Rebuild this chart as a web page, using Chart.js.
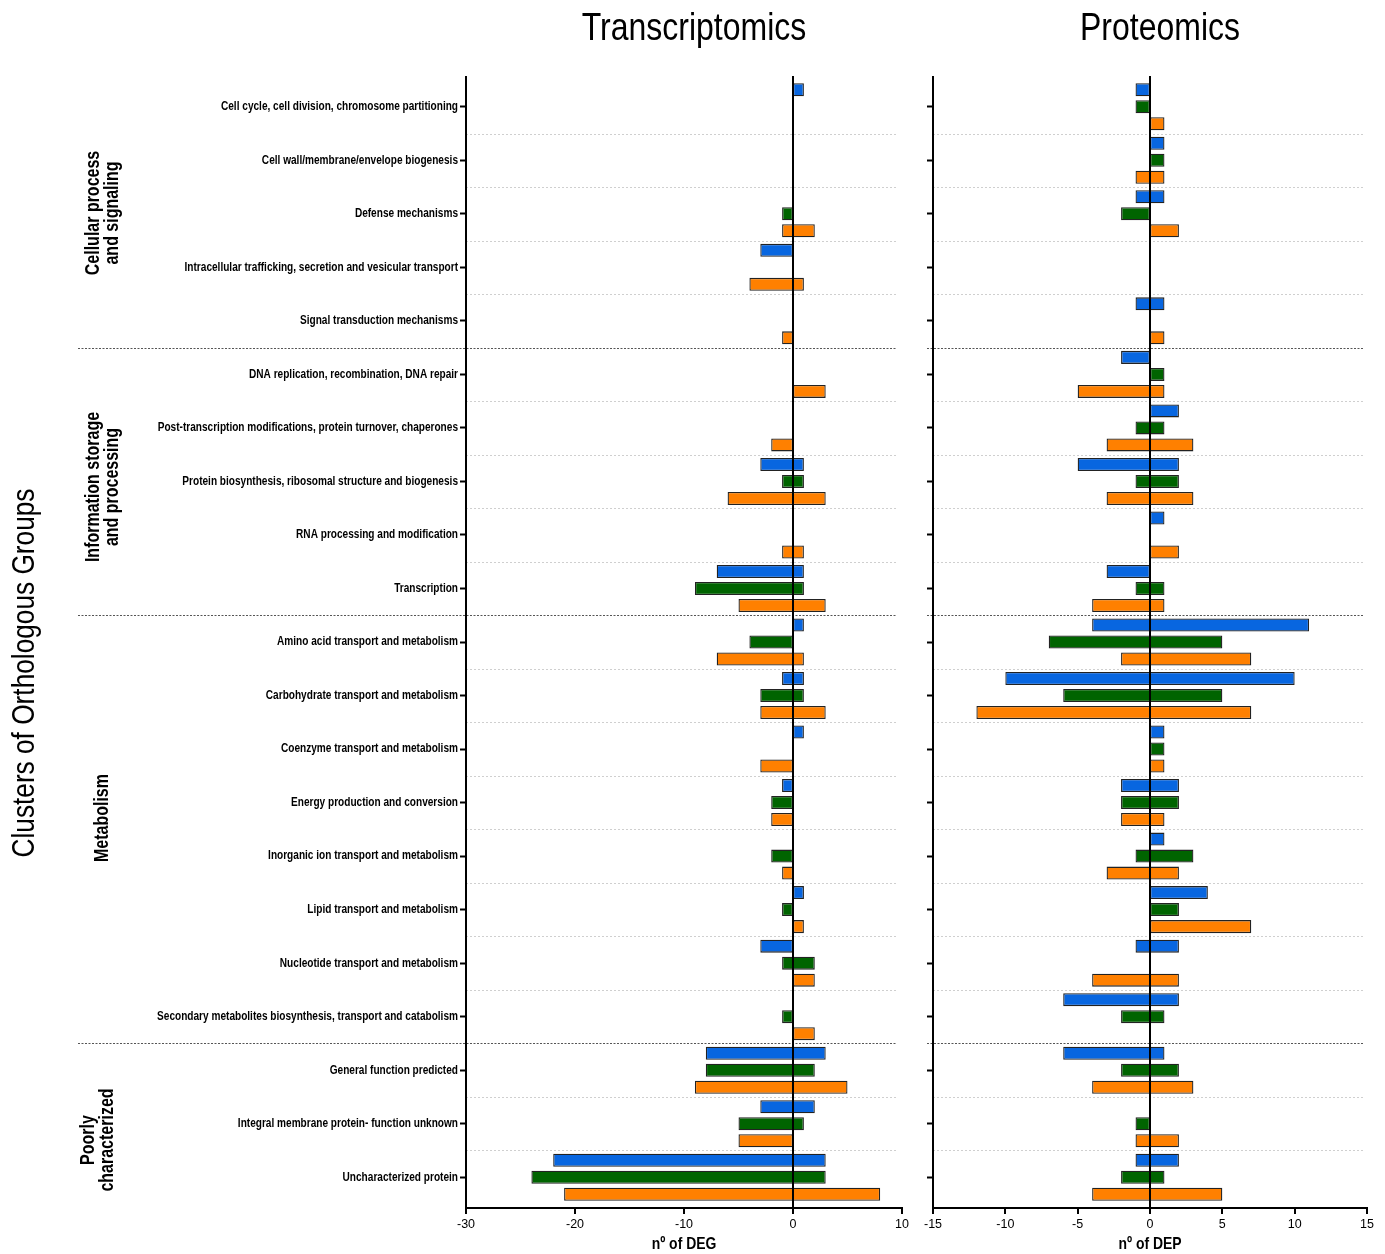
<!DOCTYPE html>
<html>
<head>
<meta charset="utf-8">
<script src="https://cdn.jsdelivr.net/npm/chart.js@4.4.1/dist/chart.umd.min.js"></script>
<style>
html,body{margin:0;padding:0;background:#fff;}
#wrap{position:relative;width:1385px;height:1254px;overflow:hidden;background:#fff;}
#c1{position:absolute;left:0;top:0;}
#c2{position:absolute;left:915px;top:0;}
</style>
</head>
<body>
<div id="wrap">
<canvas id="c1" width="910" height="1254"></canvas>
<canvas id="c2" width="470" height="1254"></canvas>
</div>
<script>
// ---------- DATA ----------
const categories = [
  "Cell cycle, cell division, chromosome partitioning",
  "Cell wall/membrane/envelope biogenesis",
  "Defense mechanisms",
  "Intracellular trafficking, secretion and vesicular transport",
  "Signal transduction mechanisms",
  "DNA replication, recombination, DNA repair",
  "Post-transcription modifications, protein turnover, chaperones",
  "Protein biosynthesis, ribosomal structure and biogenesis",
  "RNA processing and modification",
  "Transcription",
  "Amino acid transport and metabolism",
  "Carbohydrate transport and metabolism",
  "Coenzyme transport and metabolism",
  "Energy production and conversion",
  "Inorganic ion transport and metabolism",
  "Lipid transport and metabolism",
  "Nucleotide transport and metabolism",
  "Secondary metabolites biosynthesis, transport and catabolism",
  "General function predicted",
  "Integral membrane protein- function unknown",
  "Uncharacterized protein"
];
const groupNames = [
  ["Cellular process", "and signaling"],
  ["Information storage", "and processing"],
  ["Metabolism"],
  ["Poorly", "characterized"]
];
const groupLastIndex = [4, 9, 17, 20];
const seriesNames = ["Series 1", "Series 2", "Series 3"];

// Transcriptomics: [down, up] extents per category (null = no bar)
const transBlue = [[0,1], null, null, [-3,0], null, null, null, [-3,1], null, [-7,1],
  [0,1], [-1,1], [0,1], [-1,0], null, [0,1], [-3,0], null, [-8,3], [-3,2], [-22,3]];
const transGreen = [null, null, [-1,0], null, null, null, null, [-1,1], null, [-9,1],
  [-4,0], [-3,1], null, [-2,0], [-2,0], [-1,0], [-1,2], [-1,0], [-8,2], [-5,1], [-24,3]];
const transOrange = [null, null, [-1,2], [-4,1], [-1,0], [0,3], [-2,0], [-6,3], [-1,1], [-5,3],
  [-7,1], [-3,3], [-3,0], [-2,0], [-1,0], [0,1], [0,2], [0,2], [-9,5], [-5,0], [-21,8]];

// Proteomics
const protBlue = [[-1,0], [0,1], [-1,1], null, [-1,1], [-2,0], [0,2], [-5,2], [0,1], [-3,0],
  [-4,11], [-10,10], [0,1], [-2,2], [0,1], [0,4], [-1,2], [-6,2], [-6,1], null, [-1,2]];
const protGreen = [[-1,0], [0,1], [-2,0], null, null, [0,1], [-1,1], [-1,2], null, [-1,1],
  [-7,5], [-6,5], [0,1], [-2,2], [-1,3], [0,2], null, [-2,1], [-2,2], [-1,0], [-2,1]];
const protOrange = [[0,1], [-1,1], [0,2], null, [0,1], [-5,1], [-3,3], [-3,3], [0,2], [-4,1],
  [-2,7], [-12,7], [0,1], [-2,1], [-3,2], [0,7], [-4,2], null, [-4,3], [-1,2], [-4,5]];

const transTicks = [-30, -20, -10, 0, 10];
const protTicks = [-15, -10, -5, 0, 5, 10, 15];

// ---------- STYLE ----------
const FONT = '"Liberation Sans", Arial, sans-serif';
const SX = 0.82; // horizontal condensation to mimic a narrow face
const COLORS = ["#0866e0", "#006400", "#ff8000"];
Chart.defaults.font.family = FONT;
Chart.defaults.color = "#000";

function txt(ctx, s, x, y, font, align, base, rot) {
  ctx.save();
  ctx.translate(x, y);
  if (rot) ctx.rotate(-Math.PI / 2);
  ctx.scale(SX, 1);
  ctx.font = font;
  ctx.fillStyle = "#000";
  ctx.textAlign = align;
  ctx.textBaseline = base;
  ctx.fillText(s, 0, 0);
  ctx.restore();
}

function makeDatasets(arrs) {
  return arrs.map((d, i) => ({
    label: seriesNames[i],
    data: d,
    backgroundColor: COLORS[i],
    borderColor: "#222",
    borderWidth: 1.3,
    borderSkipped: false,
    categoryPercentage: 0.953,
    barPercentage: 0.765
  }));
}

function framePlugin(o) {
  return {
    id: "frame" + o.key,
    beforeDatasetsDraw(chart) {
      const {ctx, chartArea: a, scales: {y}} = chart;
      ctx.save();
      for (let i = 0; i < categories.length - 1; i++) {
        const yb = Math.round((y.getPixelForValue(i) + y.getPixelForValue(i + 1)) / 2) + 0.5;
        const grp = groupLastIndex.includes(i);
        ctx.beginPath();
        ctx.lineWidth = 1;
        if (grp) {
          ctx.strokeStyle = "#555";
          ctx.setLineDash([2, 1.5]);
          ctx.moveTo(o.groupLeft, yb);
        } else {
          ctx.strokeStyle = "#cfcfcf";
          ctx.setLineDash([2, 2]);
          ctx.moveTo(a.left, yb);
        }
        ctx.lineTo(a.right - o.sepInset, yb);
        ctx.stroke();
      }
      ctx.restore();
    },
    afterDatasetsDraw(chart) {
      const {ctx, chartArea: a, scales: {x}} = chart;
      const top = a.top - 4, bot = a.bottom + 4;
      ctx.save();
      ctx.strokeStyle = "#000";
      ctx.lineWidth = 2;
      ctx.setLineDash([]);
      const ln = (x1, y1, x2, y2) => { ctx.beginPath(); ctx.moveTo(x1, y1); ctx.lineTo(x2, y2); ctx.stroke(); };
      const x0 = Math.round(x.getPixelForValue(0));
      ln(x0, top, x0, bot);
      ln(a.left, top, a.left, bot + 1);
      ln(a.left - 1, bot, a.right + 1, bot);
      x.ticks.forEach(t => {
        const px = Math.round(x.getPixelForValue(t.value));
        ln(px, bot, px, bot + 6);
      });
      ctx.restore();
    },
    afterDraw(chart) {
      const {ctx, chartArea: a, scales: {y}} = chart;
      const cx = (a.left + a.right) / 2;
      txt(ctx, o.title, cx + 10, 40, "39px " + FONT, "center", "alphabetic", false);
      txt(ctx, o.xTitle, cx, 1244, "bold 17px " + FONT, "center", "middle", false);
      if (o.key === "L") {
        categories.forEach((c, i) => {
          txt(ctx, c, a.left - 8, y.getPixelForValue(i), "bold 12.3px " + FONT, "right", "middle", false);
        });
        txt(ctx, "Clusters of Orthologous Groups", 34, 673, "32px " + FONT, "center", "alphabetic", true);
        const centers = [213, 487, 818, 1140];
        const xs = [[99, 118], [99, 118], [108], [94, 113]];
        groupNames.forEach((lines, g) => {
          lines.forEach((t, k) => {
            txt(ctx, t, xs[g][k], centers[g], "bold 19.5px " + FONT, "center", "alphabetic", true);
          });
        });
      }
    }
  };
}

function makeChart(id, o) {
  return new Chart(document.getElementById(id), {
    type: "bar",
    data: { labels: categories, datasets: makeDatasets(o.data) },
    options: {
      indexAxis: "y",
      responsive: false,
      animation: false,
      layout: { padding: { top: 80, right: o.padRight, bottom: 0, left: 0 } },
      plugins: { legend: { display: false }, tooltip: { enabled: false } },
      scales: {
        x: {
          type: "linear",
          min: o.ticks[0],
          max: o.ticks[o.ticks.length - 1],
          afterBuildTicks: s => { s.ticks = o.ticks.map(v => ({ value: v })); },
          afterFit: s => { s.height = 50; s.paddingLeft = 0; s.paddingRight = 0; },
          grid: { display: false, tickLength: 8 },
          border: { display: false },
          ticks: { padding: 5, font: { size: 12.5 }, color: "#000", maxRotation: 0, autoSkip: false },
          title: { display: false }
        },
        y: {
          type: "category",
          afterFit: s => { s.width = o.yWidth; s.paddingTop = 0; s.paddingBottom = 0; },
          border: { display: false },
          grid: {
            display: true, offset: false, drawOnChartArea: false, drawTicks: true,
            tickLength: 6, tickWidth: 2, tickColor: "#000", color: "#000"
          },
          ticks: { display: true, autoSkip: false, padding: 2, font: { size: 11 }, callback: () => "" }
        }
      }
    },
    plugins: [framePlugin(o)]
  });
}

makeChart("c1", {
  key: "L", title: "Transcriptomics", xTitle: "nº of DEG",
  data: [transBlue, transGreen, transOrange], ticks: transTicks,
  yWidth: 466, padRight: 8, groupLeft: 78, sepInset: 6
});
makeChart("c2", {
  key: "R", title: "Proteomics", xTitle: "nº of DEP",
  data: [protBlue, protGreen, protOrange], ticks: protTicks,
  yWidth: 18, padRight: 18, groupLeft: 12, sepInset: 3
});
</script>
</body>
</html>
